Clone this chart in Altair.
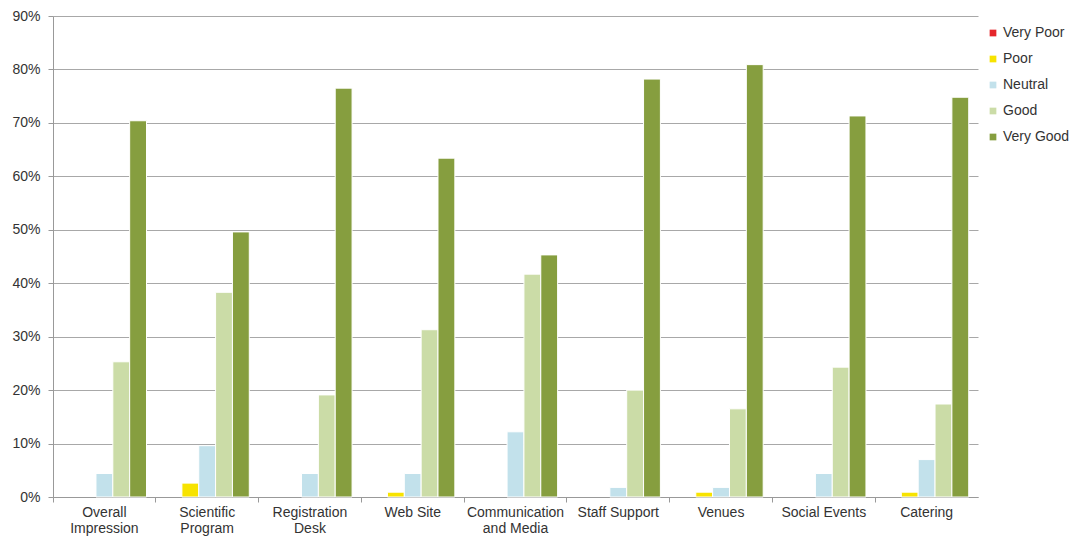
import altair as alt
import pandas as pd

categories = ["Overall Impression", "Scientific Program", "Registration Desk", "Web Site",
              "Communication and Media", "Staff Support", "Venues", "Social Events", "Catering"]
ratings = ["Very Poor", "Poor", "Neutral", "Good", "Very Good"]
very_poor = [0, 0, 0, 0, 0, 0, 0, 0, 0]
poor = [0, 2.6, 0, 0.9, 0, 0, 0.9, 0, 0.9]
neutral = [4.4, 9.6, 4.4, 4.4, 12.2, 1.8, 1.8, 4.4, 7.0]
good = [25.3, 38.3, 19.1, 31.3, 41.7, 20.0, 16.5, 24.3, 17.4]
very_good = [70.4, 49.6, 76.5, 63.4, 45.3, 78.2, 80.9, 71.3, 74.8]
colors = ["#e5262b", "#f7e300", "#c2e1eb", "#cbdca7", "#869e3f"]

series = [very_poor, poor, neutral, good, very_good]
rows = []
for r, vals in zip(ratings, series):
    for c, v in zip(categories, vals):
        rows.append({"category": c, "rating": r, "value": v / 100})
df = pd.DataFrame(rows)

label_lines = {
    "Overall Impression": ["Overall", "Impression"],
    "Scientific Program": ["Scientific", "Program"],
    "Registration Desk": ["Registration", "Desk"],
    "Communication and Media": ["Communication", "and Media"],
}
expr = "datum.label"
for k, v in label_lines.items():
    expr = f"datum.label == '{k}' ? ['{v[0]}', '{v[1]}'] : (" + expr + ")"

font = "Liberation Sans"
chart = alt.Chart(df).transform_filter(
    "datum.value > 0"
).mark_bar(stroke="white", strokeWidth=1).encode(
    x=alt.X("category:N", sort=categories, title=None,
            scale=alt.Scale(domain=categories, paddingInner=0, paddingOuter=0),
            axis=alt.Axis(labelAngle=0, bandPosition=0, labelExpr=expr, labelFontSize=14,
                          labelColor="#333333", labelFont=font, labelPadding=3,
                          domainColor="#999999", tickColor="#999999", tickSize=5,
                          labelLineHeight=16, labelBaseline="top", grid=False)),
    xOffset=alt.XOffset("rating:N", sort=ratings,
                        scale=alt.Scale(domain=ratings, paddingInner=0, paddingOuter=0.55)),
    y=alt.Y("value:Q", title=None,
            scale=alt.Scale(domain=[0, 0.9], nice=False),
            axis=alt.Axis(format=".0%", values=[i / 10 for i in range(10)], labelFontSize=14,
                          labelColor="#333333", labelFont=font, labelPadding=8,
                          domainColor="#999999", tickColor="#999999", tickSize=5,
                          gridColor="#a8a8a8", gridWidth=1)),
    color=alt.Color("rating:N", sort=ratings,
                    scale=alt.Scale(domain=ratings, range=colors),
                    legend=alt.Legend(title=None, orient="none", legendX=933, legendY=10,
                                      symbolType="square", symbolSize=45, symbolStrokeWidth=0,
                                      labelFontSize=14, labelFont=font, labelColor="#333333",
                                      rowPadding=12, labelOffset=3, padding=0)),
).properties(
    width=925, height=481,
    padding={"left": 45, "top": 8, "right": 93, "bottom": 40},
    autosize=alt.AutoSizeParams(type="none"),
).configure_view(stroke=None)

chart.save("out.html", embed_options={"renderer": "svg", "actions": False})
